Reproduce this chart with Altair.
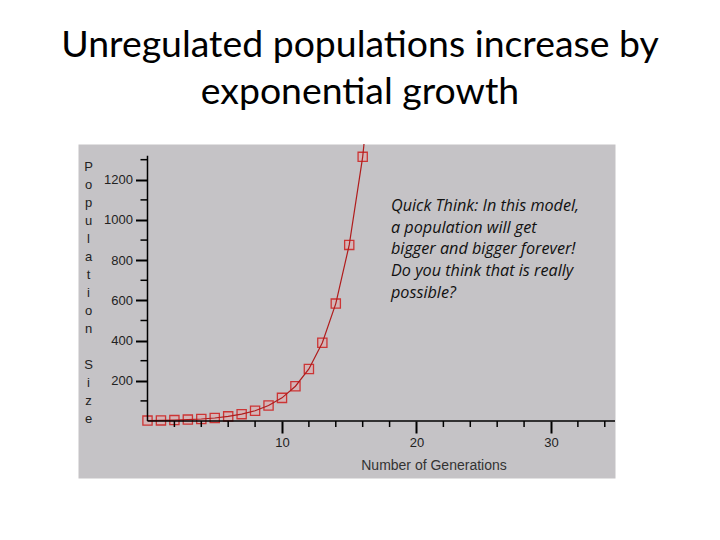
import altair as alt
import pandas as pd

# ---- data ----
generations = [0, 1, 2, 3, 4, 5, 6, 7, 8, 9, 10, 11, 12, 13, 14, 15, 16, 17]
population = [2, 3, 4.5, 7, 10, 15, 23, 34, 51, 77, 115, 173, 259, 389, 584, 876, 1314, 1971]

x_major_ticks = [10, 20, 30]
x_minor_ticks = [2, 4, 6, 8, 12, 14, 16, 18, 22, 24, 26, 28, 32, 34]
y_major_ticks = [200, 400, 600, 800, 1000, 1200]
y_minor_ticks = [100, 300, 500, 700, 900, 1100, 1300]
x_axis_extent = [0, 34.76]
y_axis_extent = [0, 1320]

title_lines = ["Unregulated populations increase by", "exponential growth"]
note_lines = [
    "Quick Think: In this model,",
    "a population will get",
    "bigger and bigger forever!",
    "Do you think that is really",
    "possible?",
]
y_title = ["P", "o", "p", "u", "l", "a", "t", "i", "o", "n", "\u200b", "S", "i", "z", "e"]
x_title = "Number of Generations"

df = pd.DataFrame({"gen": generations, "pop": population})

x_scale = alt.Scale(domain=[-5.167, 34.76], nice=False, zero=False)
y_scale = alt.Scale(domain=[-283.6, 1378], nice=False, zero=False)

axis_font = "Liberation Sans"

x_axis = alt.Axis(
    values=x_major_ticks,
    format="d",
    offset=-57,
    domain=False,
    grid=False,
    labelFont=axis_font,
    labelFontSize=13,
    labelColor="#222222",
    labelPadding=3,
    labelFlush=False,
    labelOverlap=False,
    tickColor="black",
    tickSize=12,
    tickWidth=2,
    title=x_title,
    titleFont=axis_font,
    titleFontSize=14,
    titleFontWeight="normal",
    titleColor="#333333",
    titleX=355.5,
    titleY=48,
    titleAlign="center",
    titleBaseline="alphabetic",
)

y_axis = alt.Axis(
    values=y_major_ticks,
    format="d",
    offset=-69.5,
    domain=False,
    grid=False,
    labelFont=axis_font,
    labelFontSize=13,
    labelColor="#222222",
    labelPadding=3,
    labelFlush=False,
    labelOverlap=False,
    tickColor="black",
    tickSize=12,
    tickWidth=2,
    title=y_title,
    titleAngle=0,
    titleFont=axis_font,
    titleFontSize=13,
    titleFontWeight="normal",
    titleColor="#222222",
    titleLineHeight=18.07,
    titleX=-59.5,
    titleY=16,
    titleAlign="center",
    titleBaseline="top",
)

base = alt.Chart(df)

points = base.mark_point(
    shape="square", size=85, filled=False, fill="#eaa0a0", fillOpacity=0.4,
    stroke="#cc3535", strokeWidth=1.3, clip=True,
).encode(
    x=alt.X("gen:Q", scale=x_scale, axis=x_axis),
    y=alt.Y("pop:Q", scale=y_scale, axis=y_axis),
)

line = base.mark_line(color="#b01c1c", strokeWidth=1.2, clip=True).encode(
    x=alt.X("gen:Q", scale=x_scale, axis=x_axis),
    y=alt.Y("pop:Q", scale=y_scale, axis=y_axis),
)

y_axis_line = alt.Chart(pd.DataFrame({"lo": [y_axis_extent[0]], "hi": [y_axis_extent[1]]})).mark_rule(
    color="black", strokeWidth=1.5
).encode(
    x=alt.datum(0),
    y=alt.Y("lo:Q", scale=y_scale, axis=y_axis),
    y2="hi:Q",
)

x_axis_line = alt.Chart(pd.DataFrame({"lo": [x_axis_extent[0]], "hi": [x_axis_extent[1]]})).mark_rule(
    color="black", strokeWidth=1.5
).encode(
    y=alt.datum(0),
    x=alt.X("lo:Q", scale=x_scale, axis=x_axis),
    x2="hi:Q",
)

y_minor = alt.Chart(pd.DataFrame({"v": y_minor_ticks})).mark_tick(
    orient="horizontal", size=7, thickness=1.5, color="black", opacity=1, xOffset=-3.5
).encode(
    x=alt.datum(0),
    y=alt.Y("v:Q", scale=y_scale, axis=y_axis),
)

x_minor = alt.Chart(pd.DataFrame({"v": x_minor_ticks})).mark_tick(
    orient="vertical", size=6, thickness=1.5, color="black", opacity=1, yOffset=3
).encode(
    y=alt.datum(0),
    x=alt.X("v:Q", scale=x_scale, axis=x_axis),
)

note = alt.Chart(pd.DataFrame({"k": [0]})).mark_text(
    align="left", baseline="top", font="Open Sans", fontStyle="italic",
    fontSize=16.2, lineHeight=21.7, color="#111111",
).encode(
    x=alt.value(313),
    y=alt.value(54),
    text=alt.value(note_lines),
)

chart = alt.layer(points, line, y_axis_line, x_axis_line, y_minor, x_minor, note).properties(
    width=537,
    height=334,
    padding={"left": 78, "top": 144, "right": 105, "bottom": 62},
    autosize=alt.AutoSizeParams(type="none"),
    background="white",
    title=alt.TitleParams(
        text=title_lines,
        font="Lato",
        fontSize=37.4,
        fontWeight="normal",
        color="black",
        anchor="middle",
        dx=13.5,
        offset=33,
        lineHeight=47,
    ),
).configure_view(fill="#c5c3c6", stroke="transparent")

chart.save("out.html", embed_options={"renderer": "svg", "actions": False})
